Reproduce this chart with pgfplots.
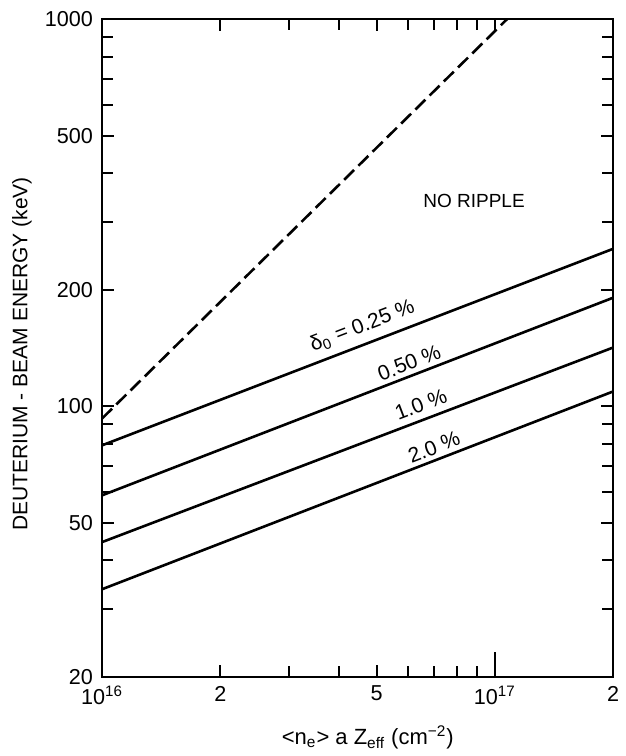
\documentclass[border=0pt]{standalone}
\usepackage{fontspec}
\setmainfont{Liberation Sans}
\usepackage{pgfplots}
\pgfplotsset{compat=1.18}
\begin{document}
\begin{tikzpicture}
\begin{axis}[
  at={(0,0)}, anchor=south west,
  scale only axis, width=255.5pt, height=329pt,
  xmode=log, ymode=log,
  xmin=1e16, xmax=2e17, ymin=20, ymax=1000,
  axis line style={line width=1.3pt},
  every tick/.style={black, line width=1pt},
  tick align=inside,
  major tick length=6pt, minor tick length=5.5pt,
  xtick={1e16,2e16,5e16,1e17,2e17},
  xticklabels={10\textsuperscript{16},2,5,10\textsuperscript{17},2},
  minor xtick={3e16,4e16,6e16,7e16,8e16,9e16},
  ytick={20,50,100,200,500,1000},
  yticklabels={20,50,100,200,500,1000},
  minor ytick={30,40,60,70,80,90,300,400,600,700,800,900},
  extra x ticks={1e17},
  extra x tick labels={},
  extra x tick style={major tick length=12.5pt, xtick pos=bottom},
  /pgf/number format/assume math mode=true,
  ticklabel style={font=\fontsize{10.8}{12}\selectfont},
  xticklabel style={yshift=-1pt},
  yticklabel style={xshift=-1pt},
  xlabel={<n\textsubscript{e}> a Z\textsubscript{eff} (cm\textsuperscript{−2})},
  xlabel style={at={(axis description cs:0.52,-0.092)}, anchor=center, font=\fontsize{11}{12}\selectfont},
  ylabel={DEUTERIUM - BEAM ENERGY (keV)},
  ylabel style={at={(axis description cs:-0.157,0.491)}, anchor=center, rotate=0, font=\fontsize{10.5}{12}\selectfont},
  clip=true,
]
\addplot[black, line width=1.3pt, dash pattern=on 7pt off 3pt] coordinates {(1e16,93) (1.075e17,1000)};
\addplot[black, line width=1.3pt] coordinates {(1e16,79.3) (2e17,255)};
\addplot[black, line width=1.3pt] coordinates {(1e16,58.9) (2e17,190.7)};
\addplot[black, line width=1.3pt] coordinates {(1e16,44.6) (2e17,141.8)};
\addplot[black, line width=1.3pt] coordinates {(1e16,33.7) (2e17,109.2)};
\node[font=\fontsize{9.5}{11}\selectfont] at (axis cs:8.85e16,340) {NO RIPPLE};
\node[rotate=21, inner sep=0.5pt, font=\fontsize{10.5}{12}\selectfont] at (axis cs:4.6e16,161) {δ\textsubscript{0} = 0.25 \%};
\node[rotate=21, inner sep=0.5pt, font=\fontsize{10.5}{12}\selectfont] at (axis cs:6.05e16,129.5) {0.50 \%};
\node[rotate=21, inner sep=0.5pt, font=\fontsize{10.5}{12}\selectfont] at (axis cs:6.48e16,101) {1.0 \%};
\node[rotate=21, inner sep=0.5pt, font=\fontsize{10.5}{12}\selectfont] at (axis cs:7.0e16,78.5) {2.0 \%};
\end{axis}
\path[use as bounding box] (-51pt,-39.5pt) rectangle (261pt,338.5pt);
\end{tikzpicture}
\end{document}
